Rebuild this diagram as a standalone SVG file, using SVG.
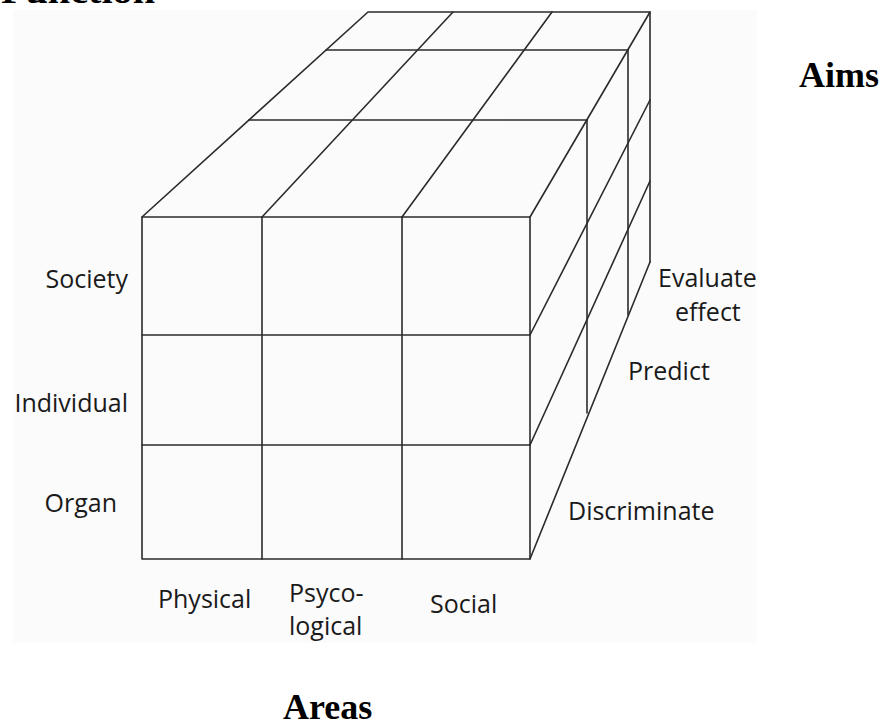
<svg xmlns="http://www.w3.org/2000/svg" width="885" height="726" viewBox="0 0 885 726">
<style>
.ln{stroke:#2b2b2b;stroke-width:1.6;fill:none;stroke-linecap:round;stroke-linejoin:round}
.lb{font-family:"Open Sans","Noto Sans",sans-serif;font-size:25px;fill:#1a1a1a}
.tt{font-family:"Liberation Serif","Times New Roman",serif;font-size:36px;font-weight:bold;fill:#000}
</style>
<rect x="0" y="0" width="885" height="726" fill="#ffffff"/>
<rect x="13" y="10" width="744" height="633" fill="#fbfbfb"/>
<g id="cube">
<g id="front-face" class="ln">
<rect x="142" y="217" width="388" height="342"/>
<line x1="262" y1="217" x2="262" y2="559"/>
<line x1="402" y1="217" x2="402" y2="559"/>
<line x1="142" y1="335" x2="530" y2="335"/>
<line x1="142" y1="445" x2="530" y2="445"/>
</g>
<g id="top-face" class="ln">
<polyline points="142,217 368,12 650,12 530,217"/>
<line x1="262" y1="217" x2="453" y2="12"/>
<line x1="402" y1="217" x2="552" y2="12"/>
<line x1="326" y1="50" x2="628" y2="50"/>
<line x1="249" y1="120" x2="587" y2="120"/>
</g>
<g id="side-face" class="ln">
<line x1="650" y1="12" x2="650" y2="262"/>
<line x1="628" y1="50" x2="628" y2="315"/>
<line x1="587" y1="120" x2="587" y2="413"/>
<line x1="530" y1="335" x2="650" y2="100"/>
<line x1="530" y1="445" x2="650" y2="181"/>
<line x1="530" y1="559" x2="650" y2="262"/>
</g>
</g>
<g id="function-labels">
<text class="lb" x="128" y="288" text-anchor="end">Society</text>
<text class="lb" x="128" y="412" text-anchor="end">Individual</text>
<text class="lb" x="117" y="512" text-anchor="end">Organ</text>
</g>
<g id="area-labels">
<text class="lb" x="158" y="608">Physical</text>
<text class="lb" x="289" y="602">Psyco-</text>
<text class="lb" x="289" y="635">logical</text>
<text class="lb" x="430" y="613">Social</text>
</g>
<g id="aim-labels">
<text class="lb" x="658" y="287">Evaluate</text>
<text class="lb" x="675" y="321">effect</text>
<text class="lb" x="628" y="380">Predict</text>
<text class="lb" x="568" y="520">Discriminate</text>
</g>
<g id="titles">
<text class="tt" x="1" y="3" textLength="154" lengthAdjust="spacingAndGlyphs">Function</text>
<text class="tt" x="799" y="87">Aims</text>
<text class="tt" x="283" y="719">Areas</text>
</g>
</svg>
